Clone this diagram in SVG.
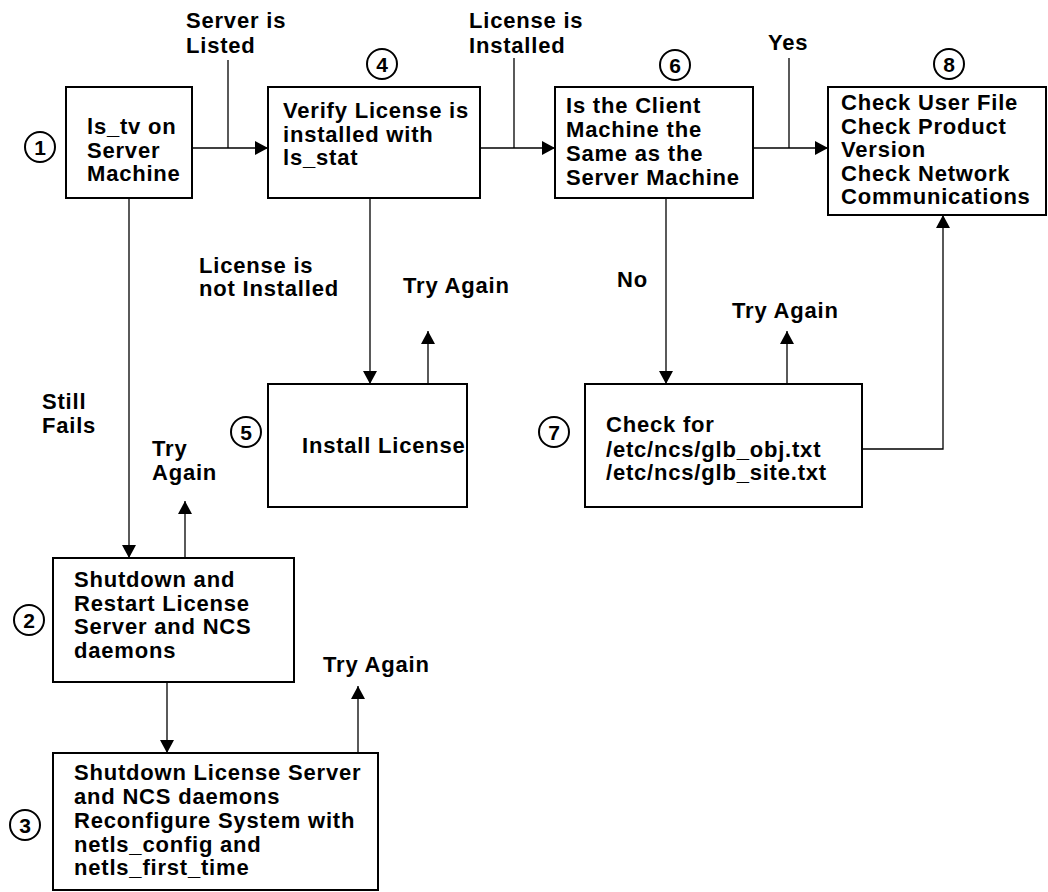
<svg xmlns="http://www.w3.org/2000/svg" width="1048" height="892" viewBox="0 0 1048 892">
  <defs>
    <marker id="arrow" markerUnits="userSpaceOnUse" markerWidth="14" markerHeight="16" refX="13" refY="7" orient="auto">
      <path d="M0,0 L13,7 L0,14 z" fill="#000"/>
    </marker>
    <style>
      text { font-family: "Liberation Sans", Arial, Helvetica, sans-serif; font-weight: bold; font-size: 22px; letter-spacing: 0.8px; fill: #000; }
      .box { fill: #fff; stroke: #000; stroke-width: 2; }
      .badge { fill: #fff; stroke: #000; stroke-width: 2; }
      .num { font-size: 21px; letter-spacing: 0; text-anchor: middle; }
      .conn path { fill: none; stroke: #000; stroke-width: 1.3; }
    </style>
  </defs>
  <rect width="1048" height="892" fill="#fff"/>

  <!-- connectors -->
  <g class="conn">
    <path d="M192,148 H268" marker-end="url(#arrow)"/>
    <path d="M228,60 V148"/>
    <path d="M480,148 H555" marker-end="url(#arrow)"/>
    <path d="M514,58 V148"/>
    <path d="M753,148 H828" marker-end="url(#arrow)"/>
    <path d="M789,58 V148"/>
    <path d="M129,198 V558" marker-end="url(#arrow)"/>
    <path d="M185,558 V501" marker-end="url(#arrow)"/>
    <path d="M167,682 V753" marker-end="url(#arrow)"/>
    <path d="M358,753 V686" marker-end="url(#arrow)"/>
    <path d="M370,198 V384" marker-end="url(#arrow)"/>
    <path d="M428,384 V331" marker-end="url(#arrow)"/>
    <path d="M666,198 V384" marker-end="url(#arrow)"/>
    <path d="M787,384 V331" marker-end="url(#arrow)"/>
    <path d="M862,449 H943 V215" marker-end="url(#arrow)"/>
  </g>

  <!-- connector labels -->
  <g id="labels">
    <text x="186" y="28">Server is</text>
    <text x="186" y="53">Listed</text>
    <text x="469" y="28">License is</text>
    <text x="469" y="53">Installed</text>
    <text x="768" y="50">Yes</text>
    <text x="199" y="273">License is</text>
    <text x="199" y="296">not Installed</text>
    <text x="403" y="293">Try Again</text>
    <text x="617" y="287">No</text>
    <text x="732" y="318">Try Again</text>
    <text x="42" y="409">Still</text>
    <text x="42" y="433">Fails</text>
    <text x="152" y="456">Try</text>
    <text x="152" y="480">Again</text>
    <text x="323" y="672">Try Again</text>
  </g>

  <!-- step 1 -->
  <g id="node1">
    <rect class="box" x="66" y="87" width="126" height="111"/>
    <text x="87" y="134">ls_tv on</text>
    <text x="87" y="157.5">Server</text>
    <text x="87" y="181">Machine</text>
    <circle class="badge" cx="40" cy="147" r="15"/>
    <text class="num" x="40" y="154.5">1</text>
  </g>

  <!-- step 2 -->
  <g id="node2">
    <rect class="box" x="53" y="558" width="241" height="124"/>
    <text x="74" y="587">Shutdown and</text>
    <text x="74" y="611">Restart License</text>
    <text x="74" y="634">Server and NCS</text>
    <text x="74" y="658">daemons</text>
    <circle class="badge" cx="29" cy="620" r="15"/>
    <text class="num" x="29" y="627.5">2</text>
  </g>

  <!-- step 3 -->
  <g id="node3">
    <rect class="box" x="53" y="753" width="325" height="137"/>
    <text x="74" y="780">Shutdown License Server</text>
    <text x="74" y="804">and NCS daemons</text>
    <text x="74" y="828">Reconfigure System with</text>
    <text x="74" y="852">netls_config and</text>
    <text x="74" y="875">netls_first_time</text>
    <circle class="badge" cx="25" cy="825" r="15"/>
    <text class="num" x="25" y="832.5">3</text>
  </g>

  <!-- step 4 -->
  <g id="node4">
    <rect class="box" x="268" y="87" width="212" height="111"/>
    <text x="283" y="118">Verify License is</text>
    <text x="283" y="141.5">installed with</text>
    <text x="283" y="165">ls_stat</text>
    <circle class="badge" cx="382" cy="64" r="15"/>
    <text class="num" x="382" y="71.5">4</text>
  </g>

  <!-- step 5 -->
  <g id="node5">
    <rect class="box" x="268" y="384" width="199" height="123"/>
    <text x="302" y="453">Install License</text>
    <circle class="badge" cx="246" cy="432" r="15"/>
    <text class="num" x="246" y="439.5">5</text>
  </g>

  <!-- step 6 -->
  <g id="node6">
    <rect class="box" x="555" y="87" width="198" height="111"/>
    <text x="566" y="113">Is the Client</text>
    <text x="566" y="137">Machine the</text>
    <text x="566" y="161">Same as the</text>
    <text x="566" y="185">Server Machine</text>
    <circle class="badge" cx="675" cy="65" r="15"/>
    <text class="num" x="675" y="72.5">6</text>
  </g>

  <!-- step 7 -->
  <g id="node7">
    <rect class="box" x="585" y="384" width="277" height="123"/>
    <text x="606" y="432">Check for</text>
    <text x="606" y="457">/etc/ncs/glb_obj.txt</text>
    <text x="606" y="480">/etc/ncs/glb_site.txt</text>
    <circle class="badge" cx="554" cy="432" r="15"/>
    <text class="num" x="554" y="439.5">7</text>
  </g>

  <!-- step 8 -->
  <g id="node8">
    <rect class="box" x="828" y="87" width="218" height="128"/>
    <text x="841" y="110">Check User File</text>
    <text x="841" y="133.5">Check Product</text>
    <text x="841" y="157">Version</text>
    <text x="841" y="180.5">Check Network</text>
    <text x="841" y="204">Communications</text>
    <circle class="badge" cx="949" cy="64" r="15"/>
    <text class="num" x="949" y="71.5">8</text>
  </g>
</svg>
